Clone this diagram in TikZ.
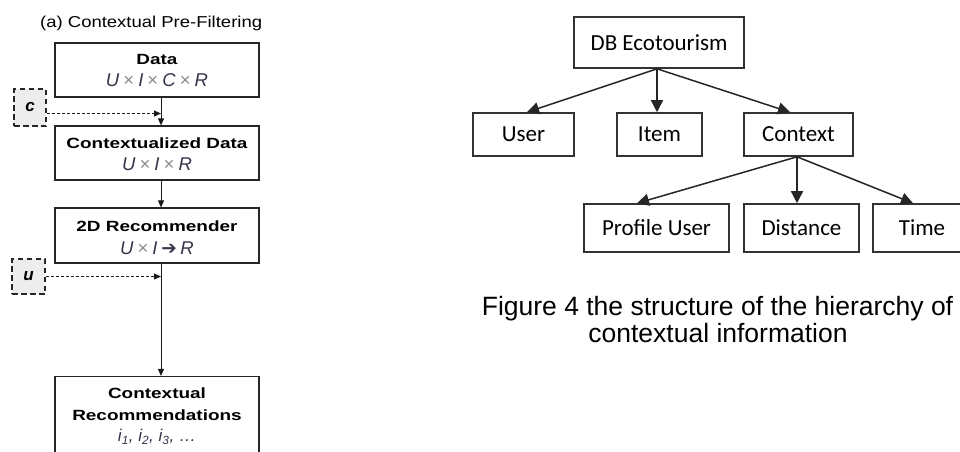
\documentclass[tikz,border=0pt]{standalone}
\usepackage{fontspec}
\setmainfont{Liberation Sans}
\newfontfamily\titlef[FakeStretch=1.17]{Liberation Sans}
\newfontfamily\boldf[FakeStretch=1.28]{Liberation Sans}
\newfontfamily\calib{Carlito}
\newfontfamily\symf{DejaVu Sans}
\usetikzlibrary{arrows.meta}
\definecolor{mathc}{HTML}{34344A}
\definecolor{crossc}{HTML}{8A8A8A}
\definecolor{dashfill}{HTML}{EDEDED}
\newcommand{\tms}{\hspace{0.22em}{\upshape\color{crossc}×}\hspace{0.22em}}
\begin{document}
\begin{tikzpicture}[x=1pt,y=-1pt,
  lbox/.style={draw=black!85, line width=1.2pt, minimum width=204pt, inner sep=0pt},
  dbox/.style={draw=black!85, fill=dashfill, dash pattern=on 5.5pt off 3.5pt, line width=2.3pt, inner sep=0pt,
     font=\bfseries\itshape\fontsize{17}{20}\selectfont},
  rbox/.style={draw=black!80, line width=1.6pt, inner sep=0pt, font=\calib\fontsize{23}{26}\selectfont},
  ar/.style={-{Triangle[length=7pt,width=6pt]}, line width=0.9pt, draw=black!90},
  dar/.style={ar, dash pattern=on 3pt off 2pt},
  har/.style={-{Triangle[length=12pt,width=12pt]}, line width=1.5pt, draw=black!85},
  bt/.style={font=\boldf\bfseries\fontsize{14.8}{17}\selectfont, inner sep=0pt, anchor=base},
  mt/.style={font=\fontsize{18.5}{20}\selectfont\itshape, text=mathc, inner sep=0pt, anchor=base}
]
\useasboundingbox (0,0) rectangle (960,451);
\clip (0,0) rectangle (960,451);

% ---------- left panel ----------
\node[anchor=base west, inner sep=0pt, font=\titlef\fontsize{15.8}{18}\selectfont] (title) at (40,27.5) {(a) Contextual Pre-Filtering};

\node[lbox, minimum height=54pt] (data) at (157,70) {};
\node[bt] (dataT) at (157,64.5) {Data};
\node[mt] (dataM) at (157,86) {U\tms I\tms C\tms R};

\node[lbox, minimum height=54pt] (cd) at (157,153) {};
\node[bt] (cdT) at (157,148.7) {Contextualized Data};
\node[mt] (cdM) at (157,170.7) {U\tms I\tms R};

\node[lbox, minimum height=55pt] (rec) at (157,235.5) {};
\node[bt] (recT) at (157,231.7) {2D Recommender};
\node[mt] (recM) at (157,254) {U\tms I\hspace{0.2em}{\upshape\symf\bfseries ➔}\hspace{0.2em}R};

\node[lbox, minimum height=100pt] (cr) at (157,426.5) {};
\node[bt] (crT1) at (157,398.3) {Contextual};
\node[bt] (crT2) at (157,420) {Recommendations};
\node[mt, font=\fontsize{17}{20}\selectfont\itshape] (crM) at (157,441.7) {i\textsubscript{1}, i\textsubscript{2}, i\textsubscript{3}, …};

\node[dbox, minimum width=32pt, minimum height=37pt] (cbox) at (30,107.5) {c};
\node[dbox, minimum width=33pt, minimum height=35pt] (ubox) at (28.5,276.5) {u};

\coordinate (ax) at (161,0);
\coordinate (cout) at ([yshift=-6pt]cbox.east);
\draw[ar] (data.south -| ax) -- (cd.north -| ax);
\draw[ar] (cd.south -| ax) -- (rec.north -| ax);
\draw[ar] (rec.south -| ax) -- (cr.north -| ax);
\draw[dar] (cout) -- (cout -| ax);
\draw[dar] (ubox.east) -- (ubox.east -| ax);

% ---------- right panel ----------
\node[rbox, minimum width=170pt, minimum height=51pt] (db) at (659,42.5) {DB Ecotourism};
\node[rbox, minimum width=101pt, minimum height=43pt] (user) at (523.5,134.5) {User};
\node[rbox, minimum width=85pt, minimum height=43pt] (item) at (659.5,134.5) {Item};
\node[rbox, minimum width=109pt, minimum height=43pt] (ctx) at (798.5,134.5) {Context};
\node[rbox, minimum width=145pt, minimum height=48pt] (prof) at (656.5,228) {Profile User};
\node[rbox, minimum width=115pt, minimum height=48pt] (dist) at (801.5,228) {Distance};
\node[rbox, minimum width=98pt, minimum height=48pt] (time) at (922,228) {Time};

\draw[har] ([xshift=-2pt]db.south) -- ([xshift=3.5pt]user.north);
\draw[har] ([xshift=-2pt]db.south) -- ([xshift=-2.5pt]item.north);
\draw[har] ([xshift=-2pt]db.south) -- ([xshift=-8.5pt]ctx.north);
\draw[har] ([xshift=-1.5pt]ctx.south) -- ([xshift=-19.5pt]prof.north);
\draw[har] ([xshift=-1.5pt]ctx.south) -- ([xshift=-4.5pt]dist.north);
\draw[har] ([xshift=-1.5pt]ctx.south) -- ([xshift=-9pt]time.north);

\node[anchor=base, inner sep=0pt, font=\fontsize{26.5}{27}\selectfont] (cap1) at (717.5,315) {Figure 4 the structure of the hierarchy of};
\node[anchor=base, inner sep=0pt, font=\fontsize{26.5}{27}\selectfont] (cap2) at (718,342) {contextual information};
\end{tikzpicture}
\end{document}
